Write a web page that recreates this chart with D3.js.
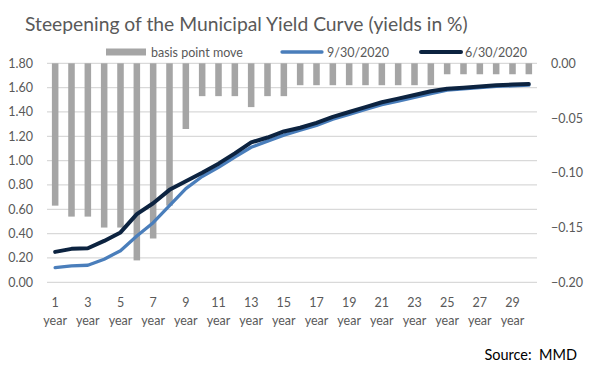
<!DOCTYPE html>
<html>
<head>
<meta charset="utf-8">
<script src="https://cdn.jsdelivr.net/npm/d3@7.9.0/dist/d3.min.js"></script>
<style>
  body { margin: 0; background: #fff; }
  svg { display: block; font-family: Lato, "Open Sans", sans-serif; }
</style>
</head>
<body>
<svg id="chart" width="594" height="369"></svg>
<script>
const categories = ['1 year','2 year','3 year','4 year','5 year','6 year','7 year','8 year','9 year','10 year',
  '11 year','12 year','13 year','14 year','15 year','16 year','17 year','18 year','19 year','20 year',
  '21 year','22 year','23 year','24 year','25 year','26 year','27 year','28 year','29 year','30 year'];

// basis point move (right axis)
const bpMove = [-0.13, -0.14, -0.14, -0.15, -0.15, -0.18, -0.16, -0.13, -0.06, -0.03,
  -0.03, -0.03, -0.04, -0.03, -0.03, -0.02, -0.02, -0.02, -0.02, -0.02,
  -0.02, -0.02, -0.02, -0.02, -0.01, -0.01, -0.01, -0.01, -0.01, -0.01];

const sep30 = [0.12, 0.135, 0.14, 0.19, 0.26, 0.38, 0.49, 0.63, 0.77, 0.87,
  0.945, 1.03, 1.11, 1.16, 1.21, 1.25, 1.29, 1.34, 1.38, 1.42,
  1.46, 1.49, 1.52, 1.55, 1.58, 1.59, 1.60, 1.61, 1.615, 1.62];

const jun30 = [0.25, 0.275, 0.28, 0.34, 0.41, 0.56, 0.65, 0.76, 0.83, 0.90,
  0.975, 1.06, 1.15, 1.19, 1.24, 1.27, 1.31, 1.36, 1.40, 1.44,
  1.48, 1.51, 1.54, 1.57, 1.59, 1.60, 1.61, 1.62, 1.625, 1.63];

const leftTicks = [0, 0.2, 0.4, 0.6, 0.8, 1.0, 1.2, 1.4, 1.6, 1.8];
const rightTicks = [0, -0.05, -0.10, -0.15, -0.20];

const svg = d3.select('#chart');
const textColor = '#595959';

const x = d3.scaleBand().domain(categories).range([47, 537]).paddingInner(0.6).paddingOuter(0.3);
const yLeft = d3.scaleLinear().domain([0, 1.8]).range([282.3, 63.3]);
const yRight = d3.scaleLinear().domain([-0.20, 0]).range([282.3, 63.3]);

// title
svg.append('text')
  .attr('x', 25).attr('y', 31)
  .attr('fill', textColor)
  .attr('font-size', 19.3)
  .text('Steepening of the Municipal Yield Curve (yields in %)');

// gridlines
svg.append('g').selectAll('line').data(leftTicks).join('line')
  .attr('x1', 47).attr('x2', 537)
  .attr('y1', d => yLeft(d)).attr('y2', d => yLeft(d))
  .attr('stroke', '#d9d9d9').attr('stroke-width', 1.3);

// left axis
const leftAxis = svg.append('g').attr('transform', 'translate(47,0)')
  .call(d3.axisLeft(yLeft).tickValues(leftTicks).tickFormat(d3.format('.2f')).tickSize(0).tickPadding(14));
leftAxis.select('.domain').remove();
leftAxis.selectAll('text').attr('fill', textColor).attr('font-size', 12.5).attr('font-family', 'Lato, sans-serif');

// right axis
const rightAxis = svg.append('g').attr('transform', 'translate(537,0)')
  .call(d3.axisRight(yRight).tickValues(rightTicks).tickFormat(d3.format('.2f')).tickSize(0).tickPadding(14));
rightAxis.select('.domain').remove();
rightAxis.selectAll('text').attr('fill', textColor).attr('font-size', 12.5).attr('font-family', 'Lato, sans-serif');

// bars hanging down from zero on the right axis
svg.append('g').selectAll('rect').data(bpMove).join('rect')
  .attr('x', (d, i) => x(categories[i]))
  .attr('width', x.bandwidth())
  .attr('y', yRight(0))
  .attr('height', d => yRight(d) - yRight(0))
  .attr('fill', '#a5a5a5');

const cx = i => x(categories[i]) + x.bandwidth() / 2;
const line = d3.line().x((d, i) => cx(i)).y(d => yLeft(d));

svg.append('path').datum(sep30)
  .attr('d', line).attr('fill', 'none')
  .attr('stroke', '#4a7ebb').attr('stroke-width', 3.3)
  .attr('stroke-linecap', 'round').attr('stroke-linejoin', 'round');

svg.append('path').datum(jun30)
  .attr('d', line).attr('fill', 'none')
  .attr('stroke', '#0c2340').attr('stroke-width', 4)
  .attr('stroke-linecap', 'round').attr('stroke-linejoin', 'round');

// x labels (every other category)
const xl = svg.append('g').selectAll('text')
  .data(categories.filter((d, i) => i % 2 === 0)).join('text')
  .attr('text-anchor', 'middle')
  .attr('fill', textColor)
  .attr('font-size', 12.5);
xl.each(function(d) {
  const parts = d.split(' ');
  const t = d3.select(this);
  const px = x(d) + x.bandwidth() / 2;
  t.append('tspan').attr('x', px).attr('y', 307).text(parts[0]);
  t.append('tspan').attr('x', px).attr('y', 325).text(parts[1]);
});

// legend
const lg = svg.append('g').attr('font-size', 12.5).attr('fill', textColor);
lg.append('rect').attr('x', 106).attr('y', 48.5).attr('width', 40).attr('height', 7).attr('fill', '#a5a5a5');
lg.append('text').attr('x', 151).attr('y', 56.5).text('basis point move');
lg.append('line').attr('x1', 282).attr('x2', 322).attr('y1', 52).attr('y2', 52)
  .attr('stroke', '#4a7ebb').attr('stroke-width', 3.3).attr('stroke-linecap', 'round');
lg.append('text').attr('x', 327).attr('y', 56.5).text('9/30/2020');
lg.append('line').attr('x1', 421).attr('x2', 461).attr('y1', 52).attr('y2', 52)
  .attr('stroke', '#0c2340').attr('stroke-width', 4).attr('stroke-linecap', 'round');
lg.append('text').attr('x', 465).attr('y', 56.5).text('6/30/2020');

// source
svg.append('text')
  .attr('x', 577).attr('y', 360)
  .attr('text-anchor', 'end')
  .attr('fill', '#000')
  .attr('font-size', 14.5)
  .attr('xml:space', 'preserve')
  .text('Source:  MMD');
</script>
</body>
</html>
